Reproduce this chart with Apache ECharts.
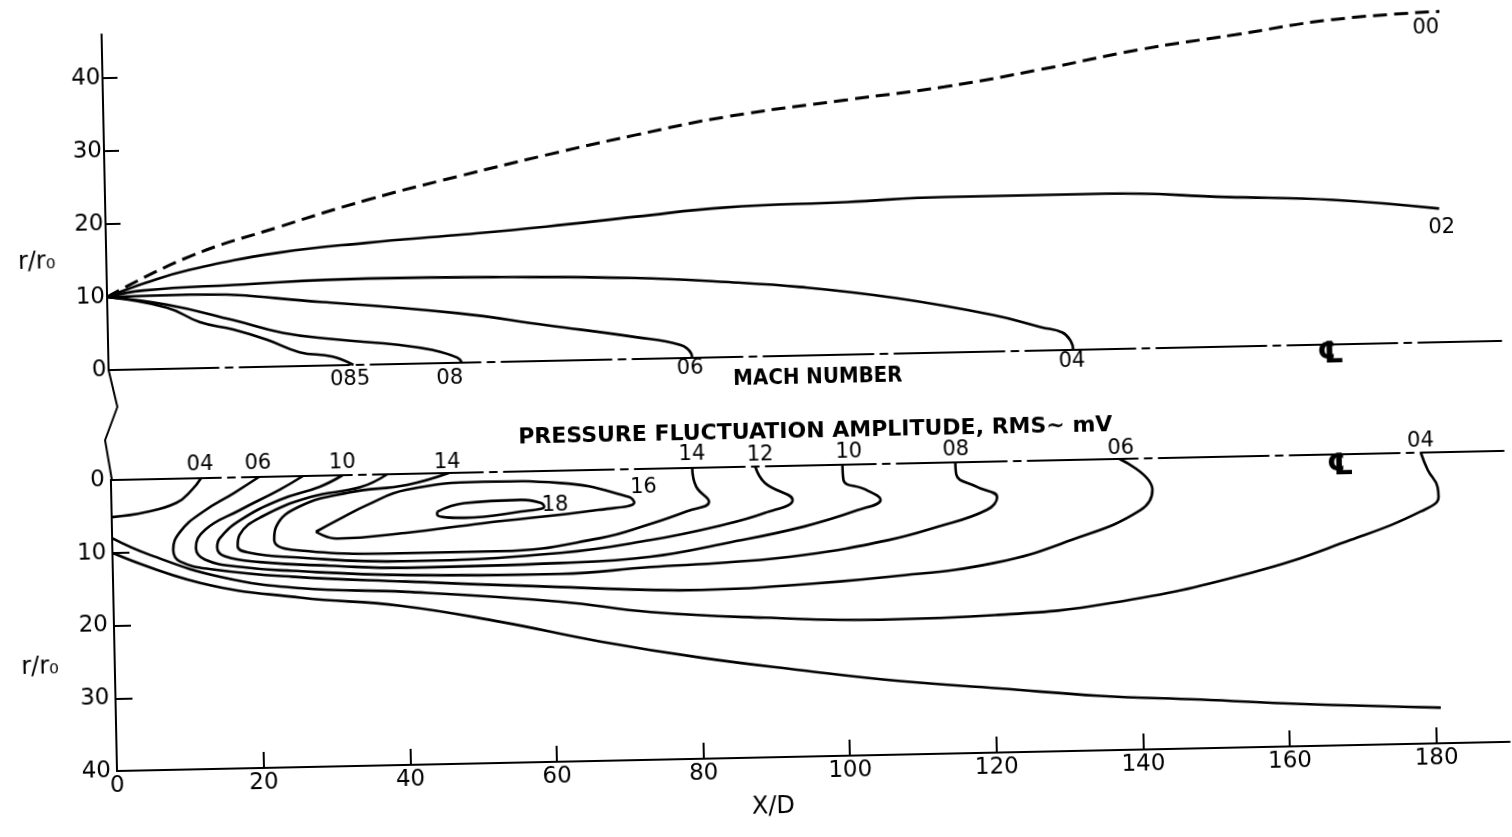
<!DOCTYPE html>
<html>
<head>
<meta charset="utf-8">
<script src="https://cdn.jsdelivr.net/npm/echarts@6/dist/echarts.min.js"></script>
<style>
  html, body { margin: 0; padding: 0; background: #fff; overflow: hidden; }
  /* the scanned figure sits slightly tilted on the page */
  #chart { width: 1512px; height: 837px; transform: rotate(-1.2deg); transform-origin: 117px 771px; }
</style>
</head>
<body>
<div id="chart"></div>
<script>
// X/D ticks
const xTicks = [0, 20, 40, 60, 80, 100, 120, 140, 160, 180];

// Mach number contours (upper half), [X/D, r/r0]
const mach00 = [[0, 10], [11.3, 15.3], [23.6, 19.1], [35.9, 22.6], [48.1, 25.5], [60.3, 28.2], [72.6, 30.7], [84.8, 32.9], [101.5, 34.9], [114.8, 36.4], [128.0, 38.5], [141.3, 40.9], [154.6, 42.7], [168.0, 44.5], [182.5, 45.3]];
const mach02 = [[0, 10], [5.2, 11.8], [11.3, 13.5], [23.6, 15.6], [35.7, 16.7], [47.9, 17.5], [60.1, 18.4], [72.4, 19.5], [84.5, 20.5], [101.2, 20.9], [114.5, 21.3], [136.4, 21.3], [152.9, 20.5], [167.5, 19.8], [181.9, 18.3]];
const mach04 = [[0, 10], [5, 10.8], [17.3, 11.3], [35.6, 11.8], [53.9, 11.6], [72.2, 11.1], [84.3, 10.3], [94.5, 9.4], [107.6, 7.6], [120.8, 5.0], [127.3, 3.2], [130.2, 2.4], [131.3, 1.2], [131.6, 0]];
const mach06 = [[0, 10], [11.2, 10.1], [29.4, 8.7], [47.7, 6.8], [59.8, 4.9], [72.0, 3.0], [78.0, 1.8], [79.5, 0.6], [79.6, 0]];
const mach08 = [[0, 10], [8.1, 8.8], [17.1, 6.5], [23.9, 4.6], [30.7, 3.6], [39.8, 2.6], [44.3, 1.8], [47.6, 0.7], [48.2, 0]];
const mach085 = [[0, 10], [8.1, 8.4], [12.6, 6.3], [17.1, 5.2], [21.7, 3.7], [26.1, 1.9], [30.6, 1.2], [33.4, 0]];

// pressure fluctuation contours (lower half), [X/D, r/r0]
const p02 = [[0, 10.0], [11.9, 14.4], [25.5, 16.7], [39.1, 18.1], [52.7, 20.6], [66.3, 23.6], [79.9, 26.1], [93.5, 28.1], [107.1, 29.9], [120.7, 31.2], [134.3, 32.5], [148.0, 33.3], [161.6, 34.2], [180.7, 35.1]];
const p04Inner = [[0, 5.1], [4.7, 4.5], [8.9, 3.3], [11.0, 1.6], [12.3, 0]];
const p04Outer = [[0, 8.0], [5.1, 10.4], [14.6, 13.6], [25.5, 15.4], [39.9, 16.2], [60.9, 18.0], [73.2, 19.7], [88.8, 20.8], [104.5, 21.4], [120.2, 21.1], [135.9, 19.8], [155.3, 16.0], [168.9, 11.8], [178.5, 8.1], [181.0, 6.1], [180.9, 4.8], [179.6, 2.4], [178.7, 0]];
const p06 = [[20.2, 0], [16.8, 2.1], [12.5, 4.6], [9.3, 7.3], [8.3, 9.8], [9.2, 11.4], [13.9, 12.6], [24.4, 13.8], [40.0, 14.8], [61.0, 16.0], [80.2, 16.8], [88.9, 16.6], [106.2, 15.5], [120.4, 13.9], [130.8, 11.0], [140.3, 7.1], [142.0, 4.3], [137.6, 0]];
const p08 = [[26.2, 0], [23.0, 1.8], [17.5, 4.5], [12.7, 7.1], [11.4, 9.6], [12.6, 11.2], [17.4, 12.3], [24.4, 13.0], [40.0, 13.9], [61.0, 14.2], [73.3, 13.5], [83.8, 13.1], [94.2, 12.3], [105.8, 10.5], [112.6, 8.8], [119.4, 6.6], [120.8, 4.9], [118.0, 3.4], [115.3, 1.7], [115.2, 0]];
const p10 = [[31.6, 0], [28.5, 1.5], [23.0, 3.2], [17.5, 5.9], [14.7, 8.3], [14.3, 9.6], [15.3, 10.8], [20.1, 11.7], [29.6, 12.4], [40.0, 12.9], [61.0, 12.7], [73.3, 12.1], [83.9, 10.4], [94.3, 8.4], [101.7, 6.3], [104.9, 4.9], [102.9, 3.5], [99.9, 2.1], [99.8, 0]];
const p12 = [[37.7, 0], [34.0, 1.7], [27.2, 2.9], [20.4, 5.5], [17.4, 7.9], [17.1, 9.5], [18.8, 10.4], [24.2, 11.1], [40.0, 12.0], [61.1, 11.3], [73.4, 9.8], [83.0, 8.0], [89.1, 6.4], [92.9, 4.7], [89.2, 2.3], [87.9, 0]];
const p14 = [[46.1, 0], [40.4, 1.5], [32.4, 2.4], [25.6, 4.2], [22.4, 6.9], [22.1, 8.7], [24.5, 10.1], [40.0, 10.9], [52.9, 10.9], [66.5, 9.4], [73.4, 7.6], [78.6, 5.9], [81.5, 4.7], [79.8, 2.6], [79.3, 0]];
const p16 = [[27.8, 7.7], [30.9, 6.1], [35.0, 4.1], [40.2, 2.2], [50.8, 1.3], [61.3, 1.7], [70.6, 3.8], [71.3, 4.6], [66.4, 5.5], [50.6, 7.0], [40.1, 8.1], [30.7, 8.7], [27.8, 7.7]];
const p18 = [[44.4, 5.3], [48.1, 4.2], [55.9, 3.9], [58.6, 4.4], [59.0, 4.9], [55.9, 5.5], [48.1, 6.2], [44.4, 5.7], [44.4, 5.3]];

// contour labels: [text, X/D, r/r0]
const machLabels = [['085', 32.9, -2.0], ['08', 46.5, -2.1], ['06', 79.3, -1.4], ['04', 131.4, -1.6], ['02', 182.2, 15.7], ['00', 180.6, 43.1]];
const pressLabels = [['04', 12.2, -1.8], ['06', 20.1, -1.8], ['10', 31.6, -1.7], ['14', 45.9, -1.5], ['16', 72.6, 2.6], ['18', 60.5, 4.7],
  ['14', 79.3, -1.8], ['12', 88.6, -1.6], ['10', 100.7, -1.7], ['08', 115.3, -1.7], ['06', 137.8, -1.5], ['04', 178.7, -1.6]];
const centerMarks = [['℄', 166.7, -1.4], ['℄', 167.7, 1.7]];
const panelTitles = [['MACH NUMBER', 96.7, -3.1], ['PRESSURE FLUCTUATION AMPLITUDE, RMS~ mV', 96.2, -4.7]];
const axisNames = [['r/r₀', -9.5, 14.9], ['r/r₀', -10.2, 25.6], ['X/D', 89.4, 46.9]];

const chart = echarts.init(document.getElementById('chart'));

const ink = '#000';
const font = 'DejaVu Sans';

const contour = (data, grid, dashed) => ({
  type: 'line',
  xAxisIndex: grid === 0 ? 0 : 1,
  yAxisIndex: grid,
  data: data,
  smooth: 0.45,
  showSymbol: false,
  silent: true,
  lineStyle: { color: ink, width: dashed ? 3 : 2.6, type: dashed ? [14, 7] : 'solid' }
});

const notes = (items, grid, style) => ({
  type: 'scatter',
  xAxisIndex: grid === 0 ? 0 : 1,
  yAxisIndex: grid,
  symbolSize: 0,
  clip: false,
  silent: true,
  itemStyle: { color: ink, opacity: 1 },
  data: items.map(([t, x, y]) => ({ value: [x, y], label: { formatter: t } })),
  label: Object.assign({
    show: true, position: 'inside', color: ink, opacity: 1,
    textBorderWidth: 0, textBorderColor: 'transparent', fontFamily: font
  }, style)
});

const centerline = { show: true, lineStyle: { color: ink, width: 2, type: [110, 7, 7, 7] } };

chart.setOption({
  backgroundColor: '#fff',
  animation: false,
  grid: [
    { left: 117, width: 1393, top: 34.2, height: 335.8 },
    { left: 117, width: 1393, top: 480, height: 291 }
  ],
  xAxis: [
    {
      gridIndex: 0, type: 'value', min: 0, max: 190, interval: 20,
      axisLine: Object.assign({ onZero: true }, centerline),
      axisTick: { show: false }, axisLabel: { show: false }, splitLine: { show: false }
    },
    {
      gridIndex: 1, type: 'value', position: 'bottom', min: 0, max: 190, interval: 20,
      axisLine: { onZero: false, lineStyle: { color: ink, width: 2 } },
      axisTick: { inside: true, length: 16, lineStyle: { color: ink, width: 2 } },
      axisLabel: { color: ink, fontFamily: font, fontSize: 23, margin: 4, showMaxLabel: false,
        formatter: v => xTicks.includes(v) ? String(v) : '' },
      splitLine: { show: false }
    },
    {
      gridIndex: 1, type: 'value', position: 'top', min: 0, max: 190,
      axisLine: Object.assign({ onZero: false }, centerline),
      axisTick: { show: false }, axisLabel: { show: false }, splitLine: { show: false }
    }
  ],
  yAxis: [
    {
      gridIndex: 0, type: 'value', min: 0, max: 46, interval: 10,
      axisLine: { show: true, onZero: false, lineStyle: { color: ink, width: 2 } },
      axisTick: { show: true, inside: true, length: 15, lineStyle: { color: ink, width: 2 } },
      axisLabel: { color: ink, fontFamily: font, fontSize: 23, margin: 2, showMaxLabel: false },
      splitLine: { show: false }
    },
    {
      gridIndex: 1, type: 'value', min: 0, max: 40, interval: 10, inverse: true,
      axisLine: { show: true, onZero: false, lineStyle: { color: ink, width: 2 } },
      axisTick: { show: true, inside: true, length: 17, lineStyle: { color: ink, width: 2 } },
      axisLabel: { color: ink, fontFamily: font, fontSize: 23, margin: 6 },
      splitLine: { show: false }
    }
  ],
  // axis break between the two halves
  graphic: [{
    type: 'polyline',
    shape: { points: [[117, 370], [125, 407], [112, 440], [118, 480]] },
    style: { stroke: ink, lineWidth: 2, fill: null }
  }],
  series: [
    contour(mach00, 0, true),
    contour(mach02, 0),
    contour(mach04, 0),
    contour(mach06, 0),
    contour(mach08, 0),
    contour(mach085, 0),
    contour(p02, 1),
    contour(p04Inner, 1),
    contour(p04Outer, 1),
    contour(p06, 1),
    contour(p08, 1),
    contour(p10, 1),
    contour(p12, 1),
    contour(p14, 1),
    contour(p16, 1),
    contour(p18, 1),
    notes(machLabels, 0, { fontSize: 21 }),
    notes(pressLabels, 1, { fontSize: 21 }),
    notes(centerMarks.slice(0, 1), 0, { fontSize: 30, fontWeight: 'bold' }),
    notes(centerMarks.slice(1), 1, { fontSize: 30, fontWeight: 'bold' }),
    notes(panelTitles.slice(0, 1), 0, { fontSize: 22, fontWeight: 'bold', fontFamily: 'DejaVu Sans Condensed' }),
    notes(panelTitles.slice(1), 1, { fontSize: 22, fontWeight: 'bold' }),
    notes(axisNames.slice(0, 1), 0, { fontSize: 24 }),
    notes(axisNames.slice(1), 1, { fontSize: 24 })
  ]
});

window.addEventListener('resize', () => chart.resize());
</script>
</body>
</html>
